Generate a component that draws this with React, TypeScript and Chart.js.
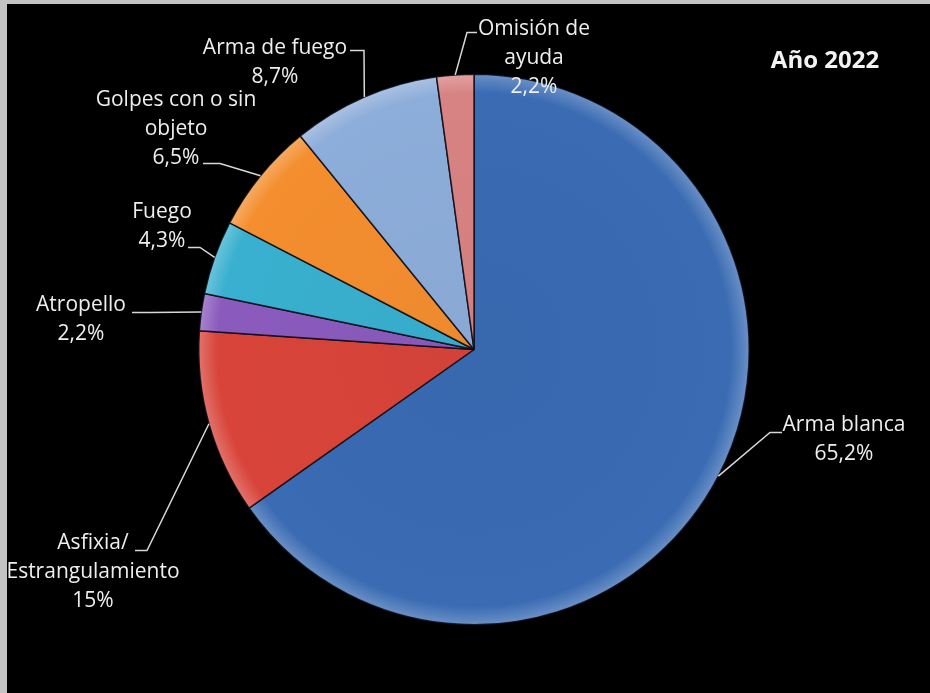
import React, { useEffect, useRef } from "react";
import { Chart, registerables } from "chart.js";

Chart.register(...registerables);

// ---- data ----
const categories = [
  "Arma blanca",
  "Asfixia / Estrangulamiento",
  "Atropello",
  "Fuego",
  "Golpes con o sin objeto",
  "Arma de fuego",
  "Omisión de ayuda",
];
const caseCounts = [30, 5, 1, 2, 3, 4, 1];
const percentLabels = ["65,2%", "15%", "2,2%", "4,3%", "6,5%", "8,7%", "2,2%"];
const labelLines = [
  ["Arma blanca"],
  ["Asfixia/", "Estrangulamiento"],
  ["Atropello"],
  ["Fuego"],
  ["Golpes con o sin", "objeto"],
  ["Arma de fuego"],
  ["Omisión de", "ayuda"],
];
const chartTitle = "Año 2022";

// ---- styles / layout ----
const sliceColors = ["#3a6bb3", "#d8443a", "#8a5bbd", "#39b0cf", "#f48e2f", "#8dadda", "#d88383"];
// offsets from the pie centre (px): text = centre of first text line, knee = bend, end = near text
const LABEL_LAYOUT = [
  { text: [370, 76], knee: [296, 83], end: [308, 83] },
  { text: [-381, 194], knee: [-327, 201], end: [-339, 201] },
  { text: [-393, -44], knee: [-324, -37], end: [-342, -37] },
  { text: [-312, -137], knee: [-274, -102], end: [-286, -102] },
  { text: [-298, -249], knee: [-254, -186], end: [-271, -186] },
  { text: [-199, -301], knee: [-110, -299], end: [-124, -299] },
  { text: [60, -320], knee: [-7, -317], end: [3, -317] },
];
const TITLE_POS = [818, 57];
const FONT_FAMILY = "'Open Sans', 'DejaVu Sans', sans-serif";
const LABEL_FONT_SIZE = 21;
const LINE_HEIGHT = 29;

function hexToRgb(hex: string) {
  const n = parseInt(hex.slice(1), 16);
  return [(n >> 16) & 255, (n >> 8) & 255, n & 255];
}
function shade(hex: string, amt: number) {
  const [r, g, b] = hexToRgb(hex);
  const f = (c: number) =>
    Math.round(amt >= 0 ? c + (255 - c) * amt : c * (1 + amt));
  return `rgb(${f(r)},${f(g)},${f(b)})`;
}

function sliceFill(ctx: any) {
  const base = sliceColors[ctx.dataIndex];
  const chart = ctx.chart;
  const area = chart.chartArea;
  if (!area) return base;
  const cx = (area.left + area.right) / 2;
  const cy = (area.top + area.bottom) / 2;
  const r = Math.min(area.width, area.height) / 2;
  const g = chart.ctx.createRadialGradient(cx, cy, 0, cx, cy, r);
  g.addColorStop(0, shade(base, -0.03));
  g.addColorStop(0.93, base);
  g.addColorStop(0.985, shade(base, 0.2));
  g.addColorStop(1, shade(base, 0.26));
  return g;
}

const labelPlugin = {
  id: "pieLabels",
  afterDraw(chart: any) {
    const meta = chart.getDatasetMeta(0);
    const c = chart.ctx;
    c.save();
    meta.data.forEach((arc: any, i: number) => {
      const lay = LABEL_LAYOUT[i];
      const cx = arc.x;
      const cy = arc.y;
      const mid = (arc.startAngle + arc.endAngle) / 2;
      const px = cx + arc.outerRadius * Math.cos(mid);
      const py = cy + arc.outerRadius * Math.sin(mid);
      c.strokeStyle = "#d8d8d8";
      c.lineWidth = 1.5;
      c.beginPath();
      c.moveTo(px, py);
      c.lineTo(cx + lay.knee[0], cy + lay.knee[1]);
      c.lineTo(cx + lay.end[0], cy + lay.end[1]);
      c.stroke();

      const lines = [...labelLines[i], percentLabels[i]];
      c.fillStyle = "#eeeeee";
      c.font = `${LABEL_FONT_SIZE}px ${FONT_FAMILY}`;
      c.textAlign = "center";
      c.textBaseline = "middle";
      lines.forEach((t, k) => {
        c.fillText(t, cx + lay.text[0], cy + lay.text[1] + k * LINE_HEIGHT);
      });
    });
    c.fillStyle = "#f2f2f2";
    c.font = `bold 24px ${FONT_FAMILY}`;
    c.textAlign = "center";
    c.textBaseline = "middle";
    c.fillText(chartTitle, TITLE_POS[0], TITLE_POS[1]);
    c.restore();
  },
};

export default function App() {
  const canvasRef = useRef<HTMLCanvasElement | null>(null);

  useEffect(() => {
    document.body.style.margin = "0";
    const canvas = canvasRef.current;
    if (!canvas) return;
    const chart = new Chart(canvas, {
      type: "pie",
      data: {
        labels: categories,
        datasets: [
          {
            data: caseCounts,
            backgroundColor: sliceFill as any,
            borderColor: "rgba(10,10,20,0.85)",
            borderWidth: 1.5,
          },
        ],
      },
      options: {
        animation: false,
        responsive: false,
        maintainAspectRatio: false,
        layout: { padding: { left: 191, right: 180, top: 69, bottom: 67 } },
        plugins: {
          legend: { display: false },
          tooltip: { enabled: false },
          title: { display: false },
        },
      },
      plugins: [labelPlugin],
    });
    return () => chart.destroy();
  }, []);

  return (
    <div
      style={{
        position: "relative",
        width: 930,
        height: 693,
        background: "#c3c3c3",
        overflow: "hidden",
      }}
    >
      <canvas
        ref={canvasRef}
        width={923}
        height={689}
        style={{
          position: "absolute",
          left: 7,
          top: 4,
          width: 923,
          height: 689,
          background: "#000000",
        }}
      />
    </div>
  );
}
